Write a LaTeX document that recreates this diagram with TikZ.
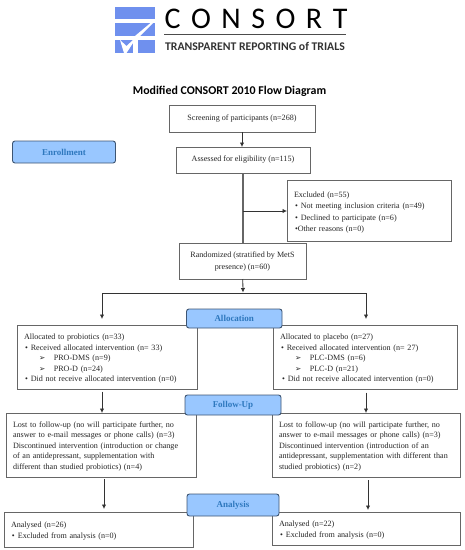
\documentclass[tikz,border=0pt]{standalone}
\usepackage{fontspec}
\setmainfont{Liberation Serif}
\newfontfamily\calibrifont{Carlito}
\newfontfamily\dingfont{DejaVu Sans}
\usetikzlibrary{positioning,arrows.meta}
\definecolor{logoblue}{HTML}{6F90EE}
\definecolor{boxgray}{HTML}{666666}
\definecolor{stagefill}{HTML}{99C7FF}
\definecolor{stageline}{HTML}{3D5573}
\definecolor{stagetext}{HTML}{2E78BE}
\tikzstyle{block} = [draw=boxgray, fill=white, rectangle, line width=0.9pt, outer sep=0pt,
    inner xsep=7pt, inner ysep=0pt, align=left, text=black!85,
    execute at begin node={\rule{0pt}{8.5pt}},
    font=\fontsize{8.1}{10.45}\selectfont]
\tikzstyle{center block} = [draw=boxgray, fill=white, rectangle, line width=0.9pt, outer sep=0pt,
    inner sep=0pt, align=center, text=black!85, font=\fontsize{8.1}{11.6}\selectfont]
\tikzstyle{stage} = [draw=stageline, fill=stagefill, rectangle, rounded corners=2.5pt, line width=0.9pt,
    outer sep=0pt, text=stagetext, font=\fontsize{9}{10}\selectfont\bfseries]
\tikzstyle{link} = [draw=black!80, line width=0.8pt, -{Latex[length=4.5pt,width=4.5pt]}]
\tikzstyle{logobar} = [fill=logoblue, draw=none]
\newcommand{\bul}{\hspace*{1pt}\textbullet\hspace{3pt}}
\newcommand{\subbul}{\hspace*{15pt}{\dingfont\fontsize{7.5}{6}\selectfont ➢}\hspace{8.5pt}}

\begin{document}
\begin{tikzpicture}[x=1pt,y=-1pt,auto,>=latex]
	  \useasboundingbox (0,0) rectangle (465,550);
	  % logo
	  \fill [logobar] (115,6.5) rectangle (155,19);
	  \fill [logobar] (115,23) rectangle (155,36);
	  \fill [logobar] (115,40) rectangle (133,53);
	  \fill [logobar] (137.5,40) rectangle (155,53);
	  \fill [white] (135,36) -- (150.5,23) -- (153,23) -- (140,36) -- cycle;
	  \fill [white] (120,40) -- (126.5,46) -- (133,40) -- (133,43) -- (126.5,53) -- (124,53) -- cycle;
	  \node [font=\calibrifont\fontsize{30}{30}\selectfont, anchor=center] (logoname) at (256,18.5) {C\hspace{10.5pt}O\hspace{10.5pt}N\hspace{10.5pt}S\hspace{10.5pt}O\hspace{10.5pt}R\hspace{10.5pt}T};
	  \draw [black!70, line width=0.9pt] (164,34.5) -- (346,34.5);
	  \node [font=\calibrifont\fontsize{11.75}{12}\selectfont\bfseries, text=black!80] (logotag) at (255,46) {TRANSPARENT REPORTING of TRIALS};
	  \node [font=\calibrifont\fontsize{11.9}{12}\selectfont\bfseries] (title) at (229.5,91) {Modified CONSORT 2010 Flow Diagram};
	  % boxes
	  \node [center block, minimum width=146pt, minimum height=27pt] (screening) at (242,118.5) {Screening of participants (n=268)};
	  \node [center block, minimum width=134pt, minimum height=26pt] (assessed) at (243,160) {Assessed for eligibility (n=115)};
	  \node [block, text width=150pt, minimum height=60.5pt, font=\fontsize{8.1}{11.5}\selectfont] (excluded) at (369,211) {Excluded (n=55)\\
	    \bul Not meeting inclusion criteria (n=49)\\
	    \bul Declined to participate (n=6)\\
	    \hspace*{1pt}\textbullet Other reasons (n=0)};
	  \node [center block, minimum width=127pt, minimum height=35.5pt] (randomized) at (242.5,261.25) {Randomized (stratified by MetS\\presence) (n=60)};
	  \node [block, text width=166pt, minimum height=64.5pt] (allocprob) at (107,357.25) {Allocated to probiotics (n=33)\\
	    \bul Received allocated intervention (n= 33)\\
	    \subbul PRO-DMS (n=9)\\
	    \subbul PRO-D (n=24)\\
	    \bul Did not receive allocated intervention (n=0)};
	  \node [block, text width=170pt, minimum height=64.5pt] (allocplac) at (365,357.25) {Allocated to placebo (n=27)\\
	    \bul Received allocated intervention (n= 27)\\
	    \subbul PLC-DMS (n=6)\\
	    \subbul PLC-D (n=21)\\
	    \hspace*{1pt}\bul Did not receive allocated intervention (n=0)};
	  \node [block, text width=176pt, minimum height=64pt] (lostprob) at (101,445) {Lost to follow-up (no will participate further, no\\
	    answer to e-mail messages or phone calls) (n=3)\\
	    Discontinued intervention (introduction or change\\
	    of an antidepressant, supplementation with\\
	    different than studied probiotics) (n=4)};
	  \node [block, text width=174pt, minimum height=64pt] (lostplac) at (366,445) {Lost to follow-up (no will participate further, no\\
	    answer to e-mail messages or phone calls) (n=3)\\
	    Discontinued intervention (introduction of an\\
	    antidepressant, supplementation with different than\\
	    studied probiotics) (n=2)};
	  \node [block, text width=175pt, minimum height=35pt] (anaprob) at (98.5,529.5) {Analysed (n=26)\\ \bul Excluded from analysis (n=0)};
	  \node [block, text width=174pt, minimum height=33pt] (anaplac) at (366,528.5) {Analysed (n=22)\\ \bul Excluded from analysis (n=0)};
	  % stage labels
	  \node [stage, minimum width=103pt, minimum height=22pt] (enrollment) at (64,152) {Enrollment};
	  \node [stage, minimum width=95.5pt, minimum height=19pt] (allocation) at (234.25,318.5) {Allocation};
	  \node [stage, minimum width=96pt, minimum height=20pt] (followup) at (233,405) {Follow-Up};
	  \node [stage, minimum width=92pt, minimum height=22pt] (analysis) at (233,505) {Analysis};
	  % connectors
	  \coordinate (split) at (243,293);
	  \coordinate (colL) at (102,0);
	  \coordinate (colR) at (366,0);
	  \coordinate (colLb) at (104,0);
	  \coordinate (colRb) at (368,0);
	  \draw [link] (screening) -- (assessed.north -| screening);
	  \draw [draw=boxgray, line width=1.4pt] (assessed) -- (randomized.north -| assessed);
	  \draw [link] (excluded.west |- excluded) ++(-44,0) coordinate (tee) -- (excluded.west);
	  \draw [link, shorten >=0.5pt] (randomized) -- (split);
	  \draw [link, shorten >=6pt] (split) -| (allocprob.north -| colL);
	  \draw [link, shorten >=6pt] (split) -| (allocplac.north -| colR);
	  \draw [link, shorten <=2pt] (allocprob.south -| colL) -- (lostprob.north -| colL);
	  \draw [link, shorten <=3pt] (allocplac.south -| colR) -- (lostplac.north -| colR);
	  \draw [link, shorten <=2pt, shorten >=3pt] (lostprob.south -| colLb) -- (anaprob.north -| colLb);
	  \draw [link, shorten <=3pt, shorten >=2pt] (lostplac.south -| colRb) -- (anaplac.north -| colRb);
	\end{tikzpicture}
\end{document}
